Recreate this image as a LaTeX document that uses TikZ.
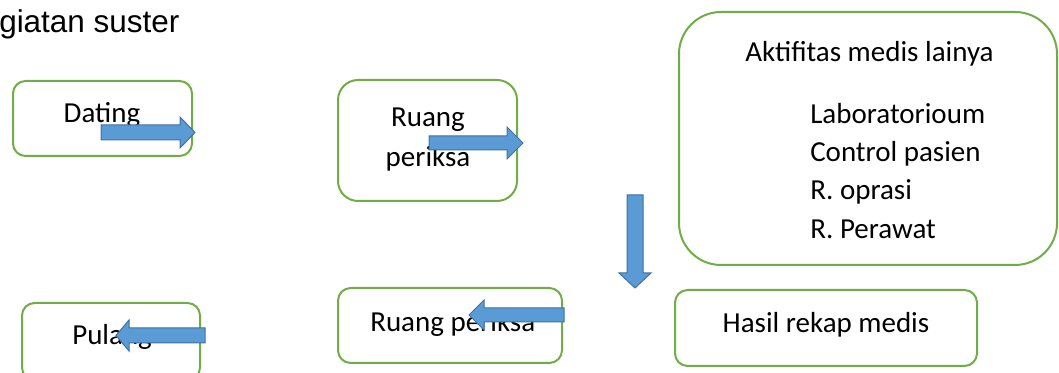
\documentclass[tikz,border=0pt]{standalone}
\usepackage{fontspec}
\setmainfont{Carlito}
\newfontfamily\titlefont{Liberation Sans}
\definecolor{boxgreen}{RGB}{112,173,71}
\definecolor{arrowfill}{RGB}{91,155,213}
\definecolor{arrowline}{RGB}{65,113,156}

\begin{document}
\begin{tikzpicture}[x=0.75pt,y=0.75pt,yscale=-1,xscale=1,
  greenbox/.style={draw=boxgreen,line width=1.5pt},
  bluearrow/.style={fill=arrowfill,draw=arrowline,line width=0.75pt,line join=miter},
  txt/.style={inner sep=0pt,font=\fontsize{21.75}{26}\selectfont}]
\useasboundingbox (0,0) rectangle (1059,373);

%Rounded Rect 
\draw [greenbox,rounded corners=9.4pt] (13,81) rectangle (192,156) ;
%Rounded Rect 
\draw [greenbox,rounded corners=15pt] (338,80) rectangle (517,201) ;
%Rounded Rect 
\draw [greenbox,rounded corners=31.5pt] (679,12) rectangle (1057,265) ;
%Rounded Rect 
\draw [greenbox,rounded corners=9.5pt] (675,290) rectangle (977,366) ;
%Rounded Rect 
\draw [greenbox,rounded corners=9.5pt] (338,288) rectangle (562,363) ;
%Rounded Rect 
\draw [greenbox,rounded corners=9.4pt] (22,303) rectangle (200,380) ;

% Text Node
\node [anchor=base west,inner sep=0pt,font=\titlefont\fontsize{23.6}{28}\selectfont] (judul) at (-1,33) {giatan suster};
% Text Node
\node [txt,anchor=base] (dating) at (102,123) {Dating};
% Text Node
\node [txt,anchor=base] (ruang) at (428,127) {Ruang};
% Text Node
\node [txt,anchor=base] (periksa) at (428,167) {periksa};
% Text Node
\node [txt,anchor=base west] (aktif) at (745,62) {Aktifitas medis lainya};
% Text Node
\node [txt,anchor=base west] (lab) at (810,124) {Laboratorioum};
% Text Node
\node [txt,anchor=base west] (ctrl) at (810,162) {Control pasien};
% Text Node
\node [txt,anchor=base west] (oprasi) at (810,200) {R. oprasi};
% Text Node
\node [txt,anchor=base west] (perawat) at (810,239) {R. Perawat};
% Text Node
\node [txt,anchor=base west] (ruangb) at (370,332) {Ruang periksa};
% Text Node
\node [txt,anchor=base] (hasil) at (826,333) {Hasil rekap medis};
% Text Node
\node [txt,anchor=base west] (pulang) at (72,345) {Pulang};

%Right Arrow 
\draw [bluearrow] (101,125) -- (180,125) -- (180,117) -- (195,132.5) -- (180,148) -- (180,140) -- (101,140) -- cycle ;
%Right Arrow 
\draw [bluearrow] (429,136) -- (507,136) -- (507,127) -- (523,143) -- (507,159) -- (507,150) -- (429,150) -- cycle ;
%Down Arrow 
\draw [bluearrow] (627,195) -- (643,195) -- (643,273) -- (651,273) -- (635,288) -- (619,273) -- (627,273) -- cycle ;
%Left Arrow 
\draw [bluearrow] (564,308) -- (484,308) -- (484,300) -- (469,315) -- (484,330) -- (484,322) -- (564,322) -- cycle ;
%Left Arrow 
\draw [bluearrow] (205,328) -- (129,328) -- (129,320) -- (116,335.5) -- (129,351) -- (129,343) -- (205,343) -- cycle ;

\end{tikzpicture}
\end{document}
